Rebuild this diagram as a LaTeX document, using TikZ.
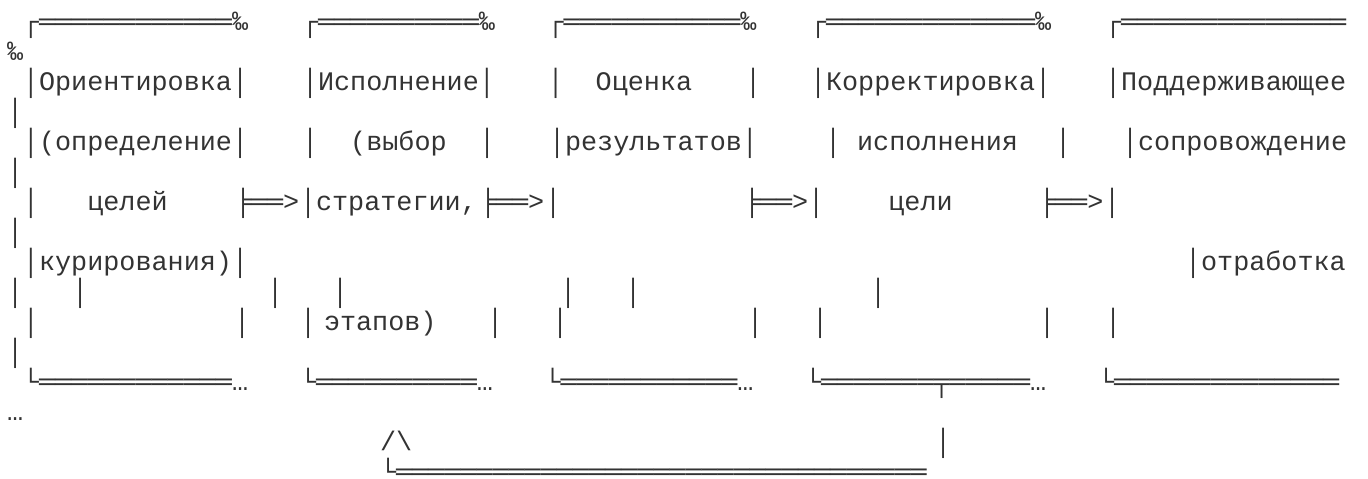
\documentclass[tikz,border=0pt]{standalone}
\usepackage{fontspec}
\newfontfamily\asciifont{Liberation Mono}
\usetikzlibrary{positioning}
\newcommand\dline[1]{\foreach\i in {1,...,#1}{═}}

\begin{document}
\begin{tikzpicture}[x=1pt,y=-1pt,
    txt/.style={anchor=base west,inner sep=0pt,outer sep=0pt,text=black!80,
      font=\asciifont\fontsize{26.8}{30}\selectfont}]
    \useasboundingbox (0,0) rectangle (1368,479);

    % Top edges
    \node[txt] (top1) at (23,30) {┌\dline{12}‰};
    \node[txt] (top2) at (302,30) {┌\dline{10}‰};
    \node[txt] (top3) at (547.5,30) {┌\dline{11}‰};
    \node[txt] (top4) at (810,30) {┌\dline{13}‰};
    \node[txt] (top5) at (1105,30) {┌\dline{14}};
    \node[txt] (wrap1) at (7,60) {‰};

    % Titles
    \node[txt] (orient) at (23,90) {│Ориентировка│};
    \node[txt] (exec) at (302,90) {│Исполнение│};
    \node[txt] (eval) at (547.5,90) {│\ \ Оценка};
    \node[txt] (evalr) at (745,90) {│};
    \node[txt] (corr) at (810,90) {│Корректировка│};
    \node[txt] (supp) at (1105,90) {│Поддерживающее};
    \node[txt] (wrap2) at (7,120) {│};

    \node[txt] (orient2) at (23,150) {│(определение│};
    \node[txt] (exec2) at (302,150) {│\ \ (выбор};
    \node[txt] (exec2r) at (479,150) {│};
    \node[txt] (eval2) at (549,150) {│результатов│};
    \node[txt] (corr2) at (825,150) {│ исполнения};
    \node[txt] (corr2r) at (1055,150) {│};
    \node[txt] (supp2) at (1122,150) {│сопровождение};
    \node[txt] (wrap3) at (7,180) {│};

    % Arrows between stages
    \node[txt] (orient3) at (23,210) {│\ \ \ целей};
    \node[txt] (arr1) at (235,210) {╞══>};
    \node[txt] (exec3) at (300,210) {│стратегии,};
    \node[txt] (arr2) at (480,210) {╞══>};
    \node[txt] (eval3) at (545,210) {│};
    \node[txt] (arr3) at (744,210) {╞══>};
    \node[txt] (corr3) at (808,210) {│\ \ \ \ цели};
    \node[txt] (arr4) at (1039,210) {╞══>};
    \node[txt] (supp3) at (1104,210) {│};
    \node[txt] (wrap4) at (7,240) {│};

    \node[txt] (orient4) at (23,270) {│курирования)│};
    \node[txt] (supp4) at (1185,270) {│отработка};

    % Side walls
    \foreach \x [count=\k] in {7,72,267,332,560,625,870}
        \node[txt] (wall\k) at (\x,300) {│};
    \foreach \x [count=\k] in {23,234,300,487,552,747,812,1039,1105}
        \node[txt] (side\k) at (\x,330) {│};
    \node[txt] (steps) at (324,330) {этапов)};
    \node[txt] (wrap5) at (7,360) {│};

    % Bottom edges
    \node[txt] (bot1) at (23,390) {└\dline{12}…};
    \node[txt] (bot2) at (300,390) {└\dline{10}…};
    \node[txt] (bot3) at (544.5,390) {└\dline{11}…};
    \node[txt] (bot4) at (805,390) {└\dline{7}╤\dline{5}…};
    \node[txt] (bot5) at (1098,390) {└\dline{14}};
    \node[txt] (wrap6) at (7,420) {…};

    % Feedback loop
    \node[txt] (peak) at (380,450) {/\textbackslash};
    \node[txt] (back) at (935,450) {│};
    \node[txt] (loop) at (380,480) {└\dline{33}};
\end{tikzpicture}
\end{document}
